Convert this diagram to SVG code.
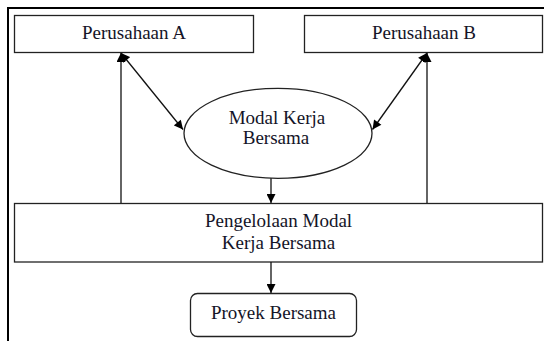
<svg xmlns="http://www.w3.org/2000/svg" width="544" height="341" viewBox="0 0 544 341">
<defs>
<style>
.box{fill:#fff;stroke:#222;stroke-width:1.3}
.t{font-family:"Liberation Serif","Times New Roman",serif;font-size:19px;fill:#141428;text-anchor:middle}
.c{stroke:#111;stroke-width:1.3;fill:none}
</style>
<marker id="ah" viewBox="0 0 10 10" refX="10" refY="5" markerWidth="10" markerHeight="9" markerUnits="userSpaceOnUse" orient="auto-start-reverse">
<path d="M0,0 L10,5 L0,10 z" fill="#000"/>
</marker>
</defs>
<rect width="544" height="341" fill="#fff"/>
<path d="M8,341 V8 H544" fill="none" stroke="#000" stroke-width="2"/>
<g id="perusahaan-a">
<rect class="box" x="14.5" y="15.5" width="239" height="37"/>
<text class="t" x="134" y="39">Perusahaan A</text>
</g>
<g id="perusahaan-b">
<rect class="box" x="304.5" y="15.5" width="238" height="37"/>
<text class="t" x="424" y="39">Perusahaan B</text>
</g>
<g id="modal-kerja">
<ellipse class="box" cx="278" cy="133.3" rx="94" ry="45"/>
<text class="t" x="277" y="124.3">Modal Kerja</text>
<text class="t" x="276" y="144.3">Bersama</text>
</g>
<g id="pengelolaan">
<rect class="box" x="14.5" y="203.5" width="528" height="58.5"/>
<text class="t" x="278.5" y="226.7">Pengelolaan Modal</text>
<text class="t" x="278.5" y="249">Kerja Bersama</text>
</g>
<g id="proyek">
<rect class="box" x="190.5" y="293.5" width="166" height="43" rx="7"/>
<text class="t" x="273.5" y="318.5">Proyek Bersama</text>
</g>
<g id="connectors">
<line class="c" x1="121" y1="53" x2="183" y2="129.5" marker-start="url(#ah)" marker-end="url(#ah)"/>
<line class="c" x1="427" y1="53" x2="372.5" y2="129.5" marker-start="url(#ah)" marker-end="url(#ah)"/>
<line class="c" x1="121" y1="203" x2="121" y2="53" marker-end="url(#ah)"/>
<line class="c" x1="427" y1="203" x2="427" y2="53" marker-end="url(#ah)"/>
<line class="c" x1="271" y1="178.3" x2="271" y2="203" marker-end="url(#ah)"/>
<line class="c" x1="271" y1="262" x2="271" y2="293" marker-end="url(#ah)"/>
</g>
</svg>
